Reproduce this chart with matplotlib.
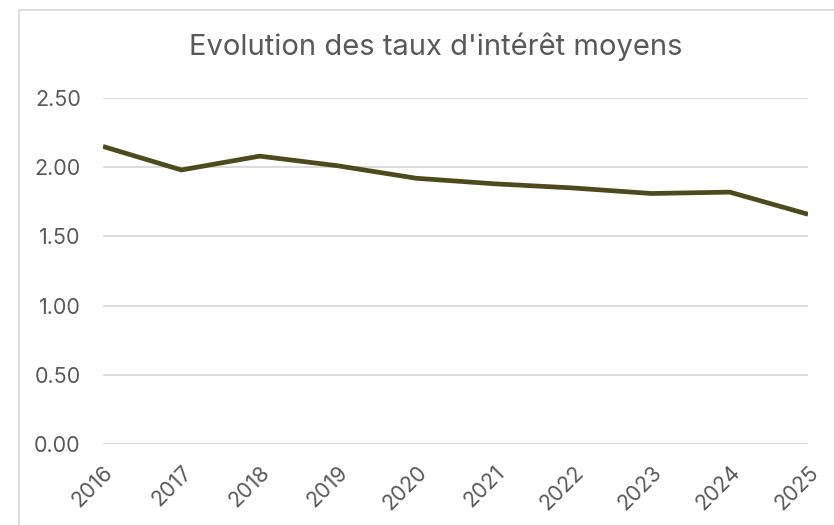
import matplotlib.pyplot as plt
from matplotlib.patches import Rectangle

plt.rcParams["font.family"] = ["Inter", "DejaVu Sans"]

years = [2016, 2017, 2018, 2019, 2020, 2021, 2022, 2023, 2024, 2025]
taux = [2.15, 1.98, 2.08, 2.01, 1.92, 1.88, 1.85, 1.81, 1.82, 1.66]
yticks = [0.0, 0.5, 1.0, 1.5, 2.0, 2.5]

TXT = "#595959"
GRID = "#d9d9d9"
LINE = "#4d4a1b"

fig = plt.figure(figsize=(8.34, 5.25), dpi=100)
ax = fig.add_axes([103 / 834, 1 - 444 / 525, (808 - 103) / 834, (444 - 98) / 525])

# outer chart frame (cropped on right / bottom)
fig.patches.append(Rectangle((19 / 834, -0.2), 2.0, 1.2 - 10 / 525,
                             transform=fig.transFigure, fill=False,
                             edgecolor=GRID, linewidth=1.2))

ax.plot(years, taux, color=LINE, linewidth=3.4, solid_joinstyle="miter",
        solid_capstyle="butt", zorder=3)

ax.set_xlim(2016, 2025)
ax.set_ylim(0, 2.5)
ax.set_yticks(yticks)
ax.set_yticklabels([f"{v:.2f}" for v in yticks])
ax.set_xticks(years)
ax.set_xticklabels([str(y) for y in years], rotation=45, ha="right",
                   va="top", rotation_mode="anchor")
ax.tick_params(axis="y", length=0, labelsize=15.5, labelcolor=TXT, pad=16)
ax.tick_params(axis="x", length=0, labelsize=15.5, labelcolor=TXT, pad=13)
ax.grid(axis="y", color=GRID, linewidth=1.3)
ax.set_axisbelow(True)
for s in ax.spines.values():
    s.set_visible(False)

fig.text(436 / 834, 1 - 47 / 525, "Evolution des taux d'intérêt moyens",
         ha="center", va="center", fontsize=21, color=TXT)

fig.savefig("out.png", dpi=100)
